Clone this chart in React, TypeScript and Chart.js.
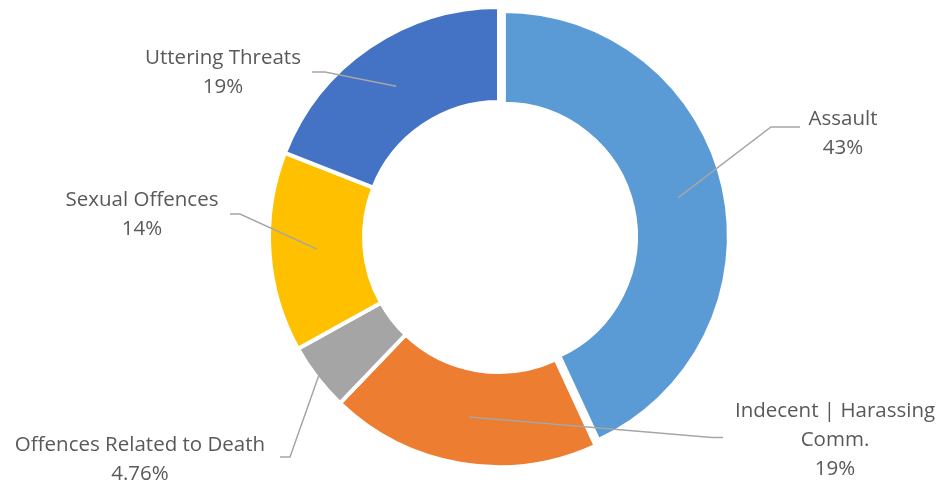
import React, { useEffect, useRef } from "react";
import { Chart, registerables } from "chart.js";

Chart.register(...registerables);

// ---- data ----
const categories = [
  "Assault",
  "Indecent | Harassing Comm.",
  "Offences Related to Death",
  "Sexual Offences",
  "Uttering Threats",
];
const values = [43, 19, 4.76, 14, 19];
const percentLabels = ["43%", "19%", "4.76%", "14%", "19%"];
const labelLines = [
  ["Assault"],
  ["Indecent | Harassing", "Comm."],
  ["Offences Related to Death"],
  ["Sexual Offences"],
  ["Uttering Threats"],
];

// ---- style / layout ----
const colors = ["#5B9BD5", "#ED7D31", "#A5A5A5", "#FFC000", "#4472C4"];
const explodeDist = [5, 0, 0, 0, 0]; // px translation of exploded slice
const explodeShrink = [5, 0, 0, 0, 0]; // px radius reduction of exploded slice
// label placement relative to the doughnut centre
const labelLayout = [
  { tx: 344, ty: -118, elbow: [272, -110], end: [301, -110], anchor: "mid" },
  { tx: 336, ty: 174, elbow: [213, 200.5], end: [224, 200.5], anchor: "mid" },
  { tx: -359, ty: 208, elbow: [-209, 220], end: [-219, 220], anchor: "outer" },
  { tx: -357, ty: -37, elbow: [-259, -23], end: [-269, -23], anchor: "mid" },
  { tx: -276, ty: -179, elbow: [-174, -165], end: [-187, -165], anchor: "mid" },
];
const FONT = "20.5px 'Open Sans'";
const LINE_H = 29;

const explodePlugin = {
  id: "explodeSlices",
  afterDatasetUpdate(chart: any) {
    const meta = chart.getDatasetMeta(0);
    meta.data.forEach((el: any, i: number) => {
      const d = explodeDist[i] || 0;
      const s = explodeShrink[i] || 0;
      if (!d && !s) return;
      const mid = (el.startAngle + el.endAngle) / 2;
      const ratio = el.innerRadius / el.outerRadius;
      el.x += Math.cos(mid) * d;
      el.y += Math.sin(mid) * d;
      el.outerRadius -= s;
      el.innerRadius = el.outerRadius * ratio;
    });
  },
};

const outLabels = {
  id: "outLabels",
  afterDatasetsDraw(chart: any) {
    const meta = chart.getDatasetMeta(0);
    const ctx = chart.ctx as CanvasRenderingContext2D;
    const a = chart.chartArea;
    const ox = (a.left + a.right) / 2;
    const oy = (a.top + a.bottom) / 2;
    ctx.save();
    meta.data.forEach((el: any, i: number) => {
      const p = el.getProps(
        ["x", "y", "startAngle", "endAngle", "innerRadius", "outerRadius"],
        true
      );
      const mid = (p.startAngle + p.endAngle) / 2;
      const L = labelLayout[i];
      const r =
        L.anchor === "outer"
          ? p.outerRadius - 2
          : (p.innerRadius + p.outerRadius) / 2;
      const sx = p.x + Math.cos(mid) * r;
      const sy = p.y + Math.sin(mid) * r;
      ctx.beginPath();
      ctx.strokeStyle = "#A6A6A6";
      ctx.lineWidth = 1.5;
      ctx.moveTo(sx, sy);
      ctx.lineTo(ox + L.elbow[0], oy + L.elbow[1]);
      ctx.lineTo(ox + L.end[0], oy + L.end[1]);
      ctx.stroke();

      ctx.fillStyle = "#595959";
      ctx.font = FONT;
      ctx.textAlign = "center";
      ctx.textBaseline = "middle";
      const lines = [...labelLines[i], percentLabels[i]];
      lines.forEach((t, k) => {
        ctx.fillText(t, ox + L.tx, oy + L.ty + k * LINE_H);
      });
    });
    ctx.restore();
  },
};

export default function App() {
  const ref = useRef<HTMLCanvasElement | null>(null);
  useEffect(() => {
    if (!ref.current) return;
    const chart = new Chart(ref.current, {
      type: "doughnut",
      data: {
        labels: categories,
        datasets: [
          {
            data: values,
            backgroundColor: colors,
            borderColor: "#FFFFFF",
            borderWidth: 4,
            hoverOffset: 0,
          },
        ],
      },
      options: {
        animation: false,
        responsive: true,
        maintainAspectRatio: false,
        events: [],
        radius: 230,
        cutout: "58.7%",
        layout: { padding: { left: 60, right: 0, top: 0, bottom: 10 } },
        plugins: {
          legend: { display: false },
          tooltip: { enabled: false },
        },
      } as any,
      plugins: [explodePlugin, outLabels],
    });
    return () => chart.destroy();
  }, []);
  return (
    <div
      style={{
        position: "absolute",
        left: 0,
        top: 0,
        width: 938,
        height: 484,
        background: "#fff",
      }}
    >
      <canvas ref={ref} />
    </div>
  );
}
